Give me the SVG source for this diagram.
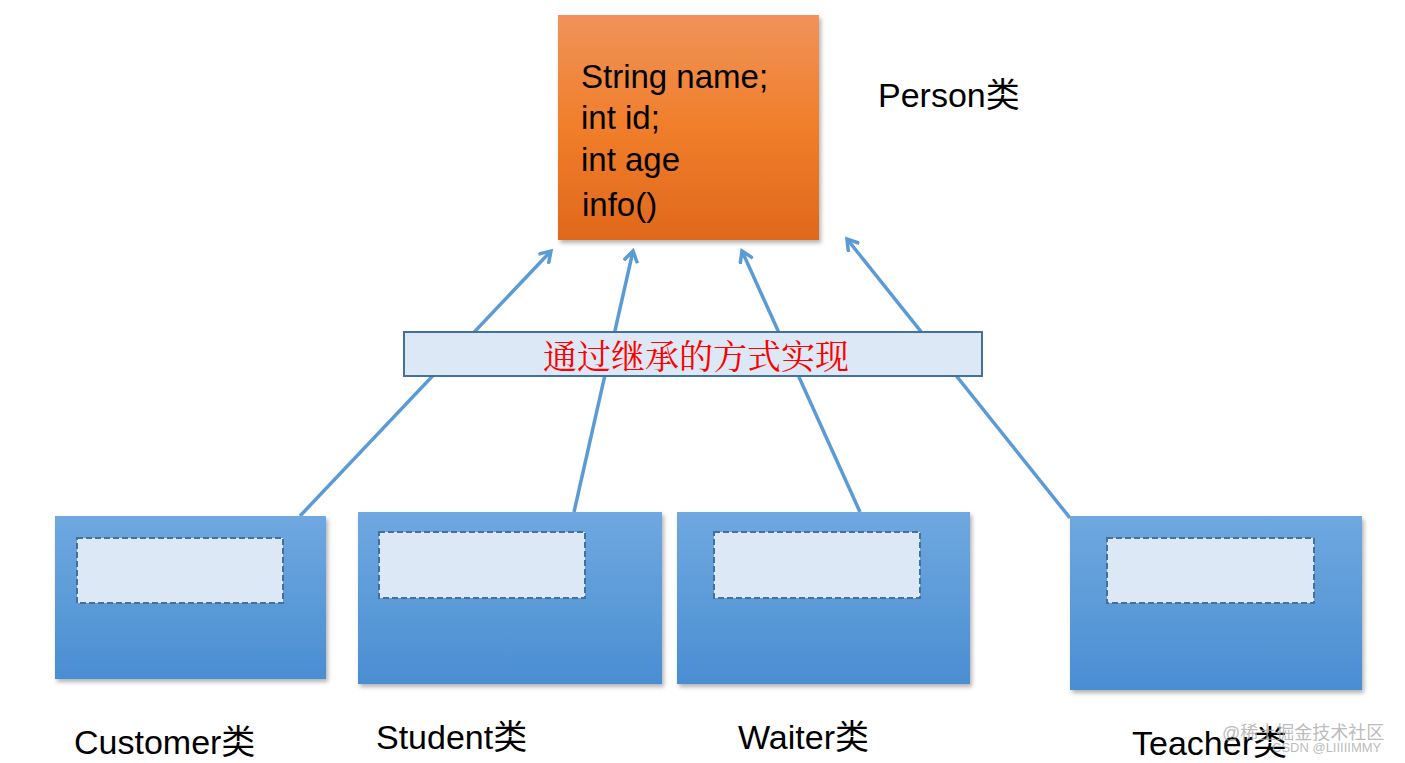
<svg xmlns="http://www.w3.org/2000/svg" width="1405" height="763" viewBox="0 0 1405 763">
<defs>
<linearGradient id="og" x1="0" y1="0" x2="0" y2="1"><stop offset="0" stop-color="#f0935a"/><stop offset="0.5" stop-color="#f07e2a"/><stop offset="1" stop-color="#e0681c"/></linearGradient>
<linearGradient id="bg" x1="0" y1="0" x2="0" y2="1"><stop offset="0" stop-color="#6fa8e0"/><stop offset="1" stop-color="#4a8ed2"/></linearGradient>
<filter id="sh" x="-5%" y="-5%" width="115%" height="115%"><feDropShadow dx="2" dy="3" stdDeviation="2" flood-opacity="0.3"/></filter>
<marker id="ah" markerWidth="16" markerHeight="16" refX="12" refY="8" orient="auto" markerUnits="userSpaceOnUse"><path d="M1,1 L12,8 L1,15" fill="none" stroke="#5b9bd5" stroke-width="3.5"/></marker>
</defs>
<style>
text{font-family:"Liberation Sans",Arial,"Noto Sans CJK SC",sans-serif;fill:#000}
.t{font-size:34px}
.m{font-size:33px}
.cls{fill:url(#bg);filter:url(#sh)}
.in{fill:#dce8f5;stroke:#41719c;stroke-width:2;stroke-dasharray:6,3}
.c{stroke:#5b9bd5;stroke-width:3.5;fill:none;marker-end:url(#ah)}
</style>
<rect width="1405" height="763" fill="#fff"/>
<g id="connectors">
<line class="c" x1="300" y1="516" x2="551" y2="251"/>
<line class="c" x1="574" y1="512" x2="633" y2="251"/>
<line class="c" x1="860" y1="512" x2="742" y2="251"/>
<line class="c" x1="1070" y1="518" x2="847" y2="239"/>
</g>
<g id="person">
<rect x="558" y="15" width="261" height="225" fill="url(#og)" filter="url(#sh)"/>
<text x="581" y="88" class="m">String name;</text>
<text x="581" y="129" class="m">int id;</text>
<text x="581" y="171" class="m">int age</text>
<text x="582" y="216" class="m">info()</text>
<text x="878" y="107" class="t">Person类</text>
</g>
<g id="label">
<rect x="404" y="332" width="578" height="44" fill="#dce8f5" stroke="#41719c" stroke-width="2"/>
<text x="696" y="369" font-size="34" text-anchor="middle" style="font-family:'Noto Serif CJK SC','Noto Sans CJK SC',serif;fill:#ff0000">通过继承的方式实现</text>
</g>
<g id="customer">
<rect class="cls" x="55" y="516" width="271" height="163"/>
<rect class="in" x="77" y="538" width="206" height="65"/>
<text x="74" y="754" class="t">Customer类</text>
</g>
<g id="student">
<rect class="cls" x="358" y="512" width="304" height="172"/>
<rect class="in" x="379" y="532" width="206" height="66"/>
<text x="376" y="749" class="t">Student类</text>
</g>
<g id="waiter">
<rect class="cls" x="677" y="512" width="293" height="172"/>
<rect class="in" x="714" y="532" width="206" height="66"/>
<text x="738" y="749" class="t">Waiter类</text>
</g>
<g id="teacher">
<rect class="cls" x="1070" y="516" width="292" height="174"/>
<rect class="in" x="1107" y="538" width="207" height="65"/>
<text x="1132" y="755" class="t">Teacher类</text>
</g>
<g id="watermark">
<text x="1222" y="739" font-size="18" style="fill:#aaa;fill-opacity:0.8">@稀土掘金技术社区</text>
<text x="1272" y="752" font-size="13" style="fill:#aaa;fill-opacity:0.8">CSDN @LIIIIIMMY</text>
</g>
</svg>
